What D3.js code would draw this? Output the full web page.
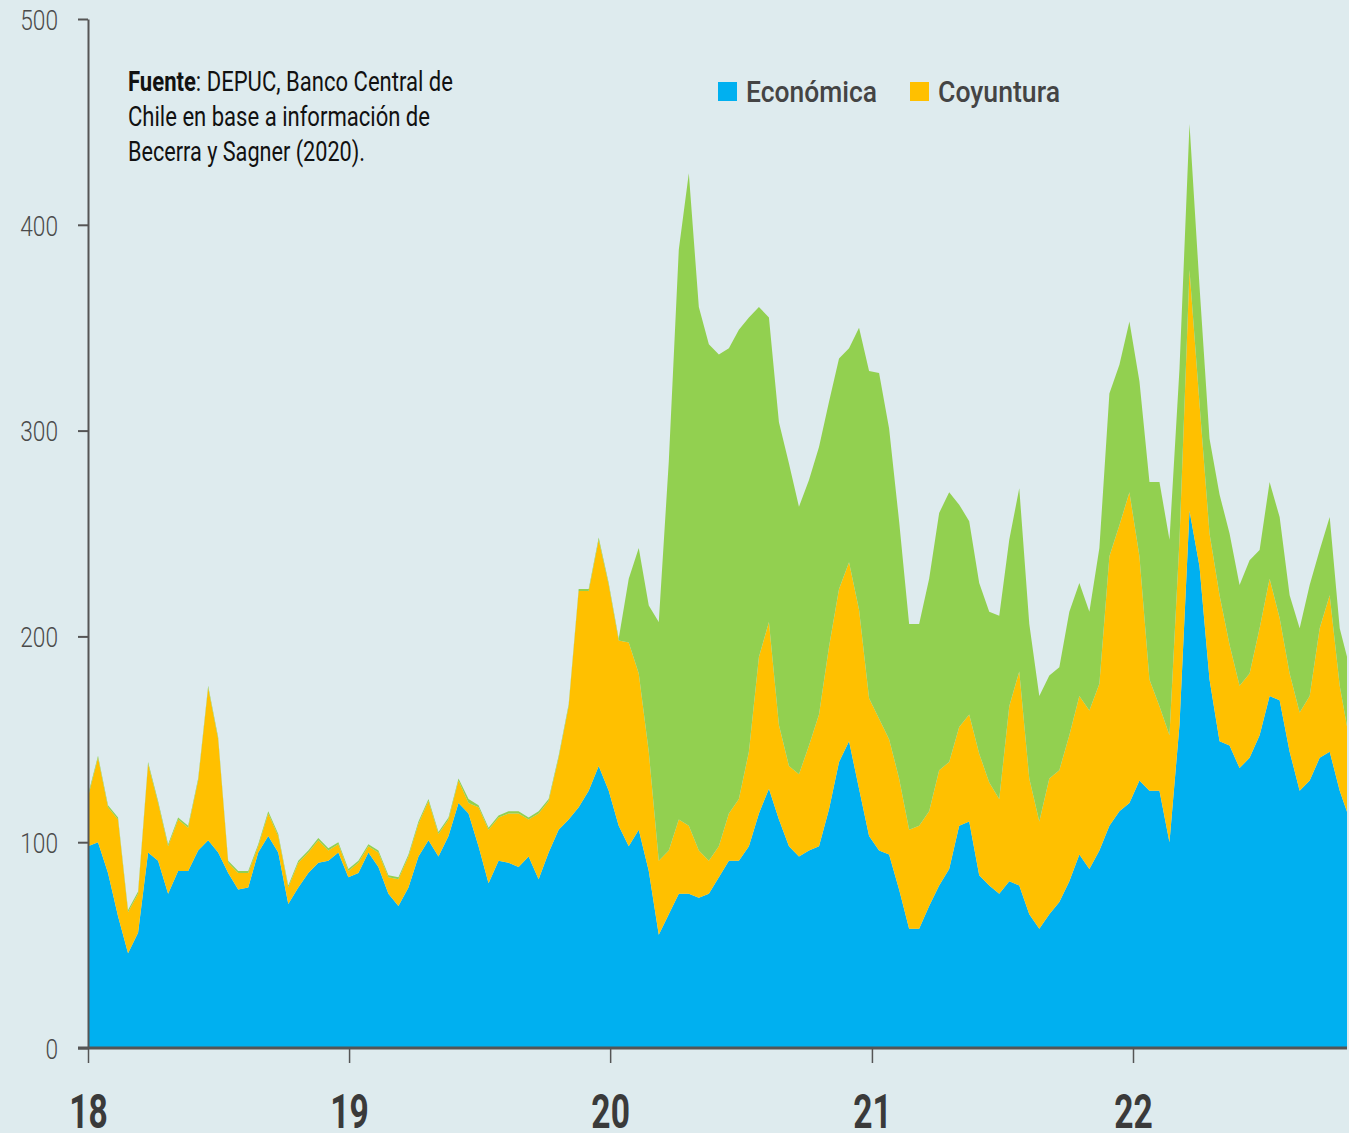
<!DOCTYPE html>
<html>
<head>
<meta charset="utf-8">
<script src="https://cdn.jsdelivr.net/npm/d3@7"></script>
<style>
  body { margin: 0; background: #deebee; }
  svg { display: block; }
  text { font-family: Roboto, "Noto Sans", sans-serif; }
</style>
</head>
<body>
<script>
// biweekly readings, starting 1 Jan 2018
const economica = [
  98, 100, 85, 64, 46, 56, 95, 91, 75, 86, 86, 96, 101, 95, 85, 77, 78, 95, 103, 95, 70, 78, 85, 90, 91, 95, 83,
  85, 95, 88, 75, 69, 78, 93, 101, 93, 103, 119, 114, 98, 80, 91, 90, 88, 93, 82, 95, 106, 111, 117, 125, 137, 125,
  108, 98, 106, 86, 55, 65, 75, 75, 73, 75, 83, 91, 91, 98, 114, 126, 111, 98, 93, 96, 98, 116, 139, 149, 126, 103,
  96, 94, 77, 58, 58, 69, 79, 87, 108, 110, 84, 79, 75, 81, 79, 65, 58, 65, 71, 81, 94, 87, 96, 108, 115, 119,
  130, 125, 125, 100, 157, 261, 234, 179, 149, 147, 136, 141, 152, 171, 169, 144, 125, 130, 141, 144, 125, 111
];
const coyuntura = [
  24, 41, 32, 47, 20, 19, 43, 28, 23, 25, 21, 34, 74, 55, 5, 8, 7, 3, 11, 8, 8, 12, 10, 11, 5, 4, 3,
  5, 3, 7, 8, 13, 15, 16, 19, 11, 8, 11, 5, 19, 26, 21, 24, 26, 18, 32, 25, 35, 55, 105, 97, 110, 100,
  90, 99, 76, 58, 36, 31, 36, 33, 23, 16, 15, 23, 30, 46, 76, 81, 46, 39, 40, 51, 64, 79, 84, 87, 87, 67,
  64, 56, 54, 48, 50, 46, 56, 52, 48, 52, 59, 50, 46, 85, 104, 66, 52, 66, 64, 71, 77, 77, 81, 131, 139, 151,
  109, 54, 41, 52, 90, 117, 79, 71, 71, 49, 40, 41, 52, 57, 40, 38, 38, 41, 63, 76, 51, 38
];
const otros = [
  1, 1, 1, 1, 1, 1, 1, 1, 1, 1, 1, 1, 1, 1, 1, 1, 1, 1, 1, 1, 1, 1, 1, 1, 1, 1, 1,
  1, 1, 1, 1, 1, 1, 1, 1, 1, 1, 1, 2, 1, 1, 1, 1, 1, 1, 1, 1, 1, 1, 1, 1, 1, 1,
  1, 31, 61, 71, 116, 189, 277, 317, 264, 251, 239, 226, 228, 211, 170, 148, 147, 147, 130, 129, 130, 119, 112, 104, 137, 159,
  168, 151, 125, 100, 98, 113, 125, 131, 108, 94, 83, 83, 89, 81, 89, 75, 61, 50, 50, 60, 55, 48, 66, 79, 78, 83,
  85, 96, 109, 95, 83, 71, 57, 46, 49, 54, 49, 55, 38, 47, 49, 38, 41, 54, 38, 38, 28, 36
];
const yTicks = [0, 100, 200, 300, 400, 500];
const xTickYears = [2018, 2019, 2020, 2021, 2022];
const legendLabels = ['Económica', 'Coyuntura'];
const sourceLines = ['DEPUC, Banco Central de', 'Chile en base a información de', 'Becerra y Sagner (2020).'];

const colors = {eco: '#00b0f0', coy: '#ffc000', otr: '#92d050'};

const svgSize = {width: 1349, height: 1133};
const margin = {top: 19, left: 88, right: 2, bottom: 85};

const start = new Date(2018, 0, 1);
const dates = economica.map((d, i) => d3.timeDay.offset(start, 14 * i));
const table = dates.map((d, i) => ({date: d, eco: economica[i], coy: coyuntura[i], otr: otros[i]}));

const svg = d3.select('body').append('svg')
  .attr('width', svgSize.width)
  .attr('height', svgSize.height);

const xScale = d3.scaleTime()
  .domain([new Date(2018, 0, 1), new Date(2022, 0, 1)])
  .range([88, 1133]);
const yScale = d3.scaleLinear()
  .domain([0, 500])
  .range([svgSize.height - margin.bottom, margin.top]);

const xEnd = svgSize.width - margin.right;

svg.append('defs').append('clipPath').attr('id', 'plot')
  .append('rect')
  .attr('x', margin.left).attr('y', 0)
  .attr('width', xEnd - margin.left).attr('height', yScale(0));

const series = d3.stack().keys(['eco', 'coy', 'otr'])(table);

const area = d3.area()
  .x(d => xScale(d.data.date))
  .y0(d => yScale(d[0]))
  .y1(d => yScale(d[1]));

svg.append('g')
  .attr('clip-path', 'url(#plot)')
  .selectAll('path')
  .data(series)
  .enter()
  .append('path')
  .attr('fill', d => colors[d.key])
  .attr('d', area);

// y axis
svg.append('g')
  .attr('transform', `translate(${margin.left}, 0)`)
  .call(d3.axisLeft(yScale).tickValues(yTicks).tickSize(10).tickSizeOuter(0).tickPadding(20))
  .call(g => g.select('.domain').attr('stroke', '#555').attr('stroke-width', 2))
  .call(g => g.selectAll('.tick line').attr('stroke', '#555').attr('stroke-width', 2))
  .call(g => g.selectAll('.tick text')
    .attr('font-family', 'Roboto, sans-serif')
    .attr('font-weight', 300)
    .attr('font-size', 27)
    .attr('fill', '#4a4a4a')
    .attr('dy', '0.38em')
    .attr('textLength', d => String(d).length * 12.6)
    .attr('lengthAdjust', 'spacingAndGlyphs'));

// x axis
const xAxis = svg.append('g')
  .attr('transform', `translate(0, ${yScale(0)})`)
  .call(d3.axisBottom(xScale)
    .tickValues(xTickYears.map(y => new Date(y, 0, 1)))
    .tickFormat(d3.timeFormat('%y'))
    .tickSize(15).tickSizeOuter(0));
xAxis.select('.domain').remove();
xAxis.append('line')
  .attr('x1', margin.left - 10).attr('x2', xEnd)
  .attr('stroke', '#555').attr('stroke-width', 3);
xAxis.selectAll('.tick line').attr('stroke', '#555').attr('stroke-width', 1.5);
xAxis.selectAll('.tick text')
  .attr('font-family', 'Roboto, sans-serif')
  .attr('font-weight', 'bold')
  .attr('font-size', 48)
  .attr('fill', '#3a3a3a')
  .attr('y', 80)
  .attr('dy', null)
  .attr('transform', 'scale(0.7,1)');

// source note
const noteWidths = [325, 302, 237];
sourceLines.forEach((line, i) => {
  const t = svg.append('text')
    .attr('x', 128)
    .attr('y', 91 + i * 35)
    .attr('font-size', 28)
    .attr('fill', '#111')
    .attr('textLength', noteWidths[i])
    .attr('lengthAdjust', 'spacingAndGlyphs');
  if (i === 0) {
    t.append('tspan').attr('font-weight', 'bold').text('Fuente');
    t.append('tspan').text(': ' + line);
  } else {
    t.text(line);
  }
});

// legend
const legendWidths = [131, 122];
const legend = svg.append('g').attr('transform', 'translate(718, 82)');
const legendItems = legend.selectAll('g')
  .data(legendLabels)
  .enter()
  .append('g')
  .attr('transform', (d, i) => `translate(${i * 192}, 0)`);
legendItems.append('rect')
  .attr('width', 19).attr('height', 19)
  .attr('fill', (d, i) => i === 0 ? colors.eco : colors.coy);
legendItems.append('text')
  .attr('x', 28)
  .attr('y', 20)
  .attr('font-size', 30)
  .attr('font-weight', 500)
  .attr('fill', '#444')
  .attr('textLength', (d, i) => legendWidths[i])
  .attr('lengthAdjust', 'spacingAndGlyphs')
  .text(d => d);
</script>
</body>
</html>
